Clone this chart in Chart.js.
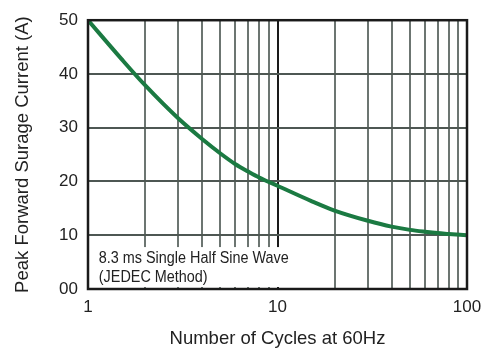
<!DOCTYPE html>
<html>
<head>
<meta charset="utf-8">
<script src="https://cdn.jsdelivr.net/npm/chart.js@4"></script>
<style>
  html, body { margin: 0; padding: 0; background: #fff; }
  #wrap { width: 481px; height: 351px; }
</style>
</head>
<body>
<div id="wrap"><canvas id="surgeChart" width="481" height="351"></canvas></div>
<script>
// 데이터
const cycles = [1, 1.5, 2, 3, 4, 5, 6, 7, 8, 10, 15, 20, 30, 40, 50, 60, 70, 80, 100];
const surgeCurrent = [50, 42.8, 37.9, 31.7, 27.9, 25.2, 23.2, 21.85, 20.75, 19.2, 16.4, 14.6, 12.7, 11.6, 11.0, 10.65, 10.4, 10.25, 10.0];
const xGridValues = [1, 2, 3, 4, 5, 6, 7, 8, 9, 10, 20, 30, 40, 50, 60, 70, 80, 90, 100];
const xLabelValues = [1, 10, 100];
const yTickValues = [0, 10, 20, 30, 40, 50];
const yTickLabels = ["00", "10", "20", "30", "40", "50"];
const noteLines = ["8.3 ms Single Half Sine Wave", "(JEDEC Method)"];

const FONT = "'Liberation Sans', Arial, sans-serif";

// 메모 박스 + 테두리
const framePlugin = {
  id: "frame",
  afterDraw(chart) {
    const { ctx, chartArea: a, scales } = chart;
    const xs = scales.x, ys = scales.y;

    // 메모 영역 (흰 배경)
    const bx0 = xs.getPixelForValue(1) + 2;
    const bx1 = xs.getPixelForValue(12.5);
    const by0 = ys.getPixelForValue(7.8);
    const by1 = ys.getPixelForValue(0) - 2;
    ctx.save();
    ctx.fillStyle = "#fff";
    ctx.fillRect(bx0, by0, bx1 - bx0, by1 - by0);

    // 글자는 살짝 좁게
    const tx = xs.getPixelForValue(1.14);
    ctx.fillStyle = "#222";
    ctx.font = "16px " + FONT;
    ctx.textBaseline = "middle";
    ctx.translate(tx, 0);
    ctx.scale(0.9, 1);
    ctx.fillText(noteLines[0], 0, ys.getPixelForValue(5.6));
    ctx.fillText(noteLines[1], 0, ys.getPixelForValue(2.1));
    ctx.setTransform(1, 0, 0, 1, 0, 0);

    // 테두리
    ctx.strokeStyle = "#1a1a1a";
    ctx.lineWidth = 2.5;
    ctx.strokeRect(a.left, a.top, a.right - a.left, a.bottom - a.top);
    ctx.restore();
  }
};

new Chart(document.getElementById("surgeChart"), {
  type: "line",
  data: {
    datasets: [{
      data: cycles.map((c, i) => ({ x: c, y: surgeCurrent[i] })),
      borderColor: "#1b7a42",
      borderWidth: 4,
      pointRadius: 0,
      cubicInterpolationMode: "monotone",
      fill: false
    }]
  },
  options: {
    responsive: false,
    animation: false,
    layout: { padding: { left: 0, right: 14, top: 18, bottom: 0 } },
    plugins: { legend: { display: false }, tooltip: { enabled: false } },
    scales: {
      x: {
        type: "logarithmic",
        min: 1,
        max: 100,
        afterBuildTicks: (scale) => {
          scale.ticks = xGridValues.map(v => ({ value: v }));
        },
        afterFit: (scale) => {
          scale.height = 62;
          scale.paddingLeft = 0;
          scale.paddingRight = 0;
        },
        ticks: {
          autoSkip: false,
          maxRotation: 0,
          padding: 8,
          color: "#222",
          font: { family: FONT, size: 17 },
          callback: (v) => xLabelValues.includes(v) ? String(v) : ""
        },
        grid: {
          drawTicks: false,
          lineWidth: 2,
          color: (c) => (c.tick && c.tick.value === 10) ? "#1a1a1a" : "#6c7571"
        },
        border: { display: false },
        title: {
          display: true,
          text: "Number of Cycles at 60Hz",
          color: "#222",
          font: { family: FONT, size: 18.5 },
          padding: { top: 0, bottom: 1 }
        }
      },
      y: {
        min: 0,
        max: 50,
        afterBuildTicks: (scale) => {
          scale.ticks = yTickValues.map(v => ({ value: v }));
        },
        afterFit: (scale) => { scale.width = 88; },
        ticks: {
          padding: 10,
          color: "#222",
          font: { family: FONT, size: 17 },
          callback: (v) => yTickLabels[yTickValues.indexOf(v)]
        },
        grid: {
          drawTicks: false,
          lineWidth: 2,
          color: "#4e5753"
        },
        border: { display: false },
        title: {
          display: true,
          text: "Peak Forward Surage Current (A)",
          color: "#222",
          font: { family: FONT, size: 18.5 },
          padding: { top: 12, bottom: 0 }
        }
      }
    }
  },
  plugins: [framePlugin]
});
</script>
</body>
</html>
